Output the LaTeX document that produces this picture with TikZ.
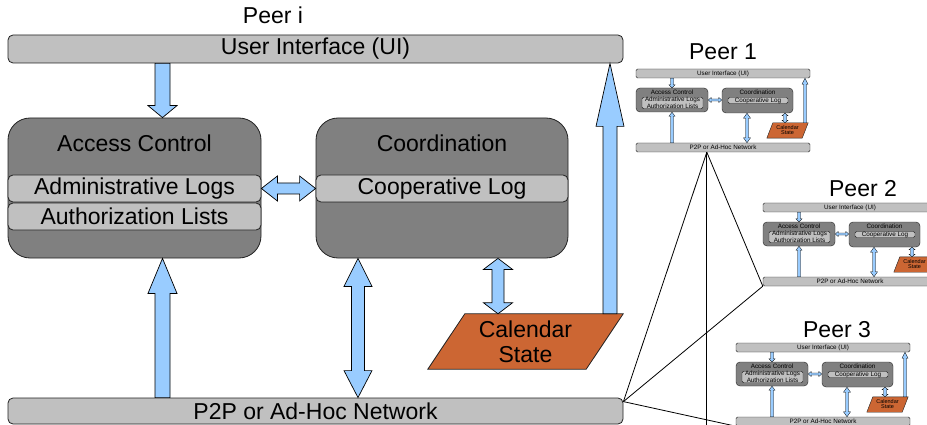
\documentclass[tikz,border=0pt]{standalone}
\usepackage{fontspec}
\setmainfont{Liberation Sans}
\usetikzlibrary{calc}
\definecolor{bargray}{HTML}{C0C0C0}
\definecolor{boxgray}{HTML}{808080}
\definecolor{edgegray}{HTML}{222222}
\definecolor{arrowblue}{HTML}{99CCFF}
\definecolor{calorange}{HTML}{CC6633}
\tikzset{
  lbl/.style={font=\fontsize{23}{25}\selectfont, inner sep=0pt, text=black},
  bar/.style={draw=edgegray, fill=bargray, rounded corners=5pt, line width=0.8pt, inner sep=0pt},
  bigbox/.style={draw=edgegray, fill=boxgray, rounded corners=22pt, line width=0.8pt, inner sep=0pt},
  blockar/.style={draw=black, fill=arrowblue, line width=0.7pt, line join=miter},
  calshape/.style={draw=edgegray, fill=calorange, line width=0.8pt},
  stxt/.style={font=\fontsize{6.3}{5}\selectfont, inner sep=0pt, text=black},
  sbar/.style={draw=edgegray, fill=bargray, rounded corners=1.5pt, line width=0.4pt, inner sep=0pt},
  sbox/.style={draw=edgegray, fill=boxgray, rounded corners=4pt, line width=0.4pt, inner sep=0pt},
  sblockar/.style={draw=black, fill=arrowblue, line width=0.3pt, line join=miter},
  scalshape/.style={draw=edgegray, fill=calorange, line width=0.4pt},
  link/.style={draw=black, line width=0.8pt},
}
% single-headed vertical block arrow: tail, tip, half shaft, half head, head length, style
\newcommand\sarrowv[6]{%
  \path[#6] let \p1=#1, \p2=#2, \n1={ifthenelse(\y2>\y1,1,-1)} in
   ({\x1-#3pt},\y1) -- ({\x1-#3pt},{\y2-(\n1)*#5pt}) -- ({\x1-#4pt},{\y2-(\n1)*#5pt})
   -- (\x1,\y2) -- ({\x1+#4pt},{\y2-(\n1)*#5pt}) -- ({\x1+#3pt},{\y2-(\n1)*#5pt})
   -- ({\x1+#3pt},\y1) -- cycle;}
% double-headed vertical block arrow: tip1, tip2, half shaft, half head, head len 1, head len 2, style
\newcommand\darrowv[7]{%
  \path[#7] let \p1=#1, \p2=#2, \n1={ifthenelse(\y2>\y1,1,-1)} in
   (\x1,\y1) -- ({\x1+#4pt},{\y1+(\n1)*#5pt}) -- ({\x1+#3pt},{\y1+(\n1)*#5pt})
   -- ({\x1+#3pt},{\y2-(\n1)*#6pt}) -- ({\x1+#4pt},{\y2-(\n1)*#6pt}) -- (\x1,\y2)
   -- ({\x1-#4pt},{\y2-(\n1)*#6pt}) -- ({\x1-#3pt},{\y2-(\n1)*#6pt})
   -- ({\x1-#3pt},{\y1+(\n1)*#5pt}) -- ({\x1-#4pt},{\y1+(\n1)*#5pt}) -- cycle;}
% double-headed horizontal block arrow
\newcommand\darrowh[7]{%
  \path[#7] let \p1=#1, \p2=#2, \n1={ifthenelse(\x2>\x1,1,-1)} in
   (\x1,\y1) -- ({\x1+(\n1)*#5pt},{\y1+#4pt}) -- ({\x1+(\n1)*#5pt},{\y1+#3pt})
   -- ({\x2-(\n1)*#6pt},{\y1+#3pt}) -- ({\x2-(\n1)*#6pt},{\y1+#4pt}) -- (\x2,\y1)
   -- ({\x2-(\n1)*#6pt},{\y1-#4pt}) -- ({\x2-(\n1)*#6pt},{\y1-#3pt})
   -- ({\x1+(\n1)*#5pt},{\y1-#3pt}) -- ({\x1+(\n1)*#5pt},{\y1-#4pt}) -- cycle;}
% small copy of a peer
\newcommand\minipeer[2]{%
  \begin{scope}[shift={#2}]
    \node[sbar, stxt, minimum width=174pt, minimum height=9pt] (#1ui) at (87,4.5) {User Interface (UI)};
    \node[sbox, minimum width=72pt, minimum height=24pt] (#1ac) at (36,31) {};
    \node[stxt] (#1act) at (36,23.5) {Access Control};
    \node[sbar, stxt, minimum width=61pt, minimum height=10pt, align=center] (#1adm) at (36.5,34) {Administrative Logs\\Authorization Lists};
    \node[sbox, minimum width=71pt, minimum height=25pt] (#1co) at (121.5,31.5) {};
    \node[stxt] (#1cot) at (121.5,23.5) {Coordination};
    \node[sbar, stxt, minimum width=60pt, minimum height=6pt] (#1coop) at (122,31.5) {Cooperative Log};
    \path node[minimum width=35pt, minimum height=15pt, inner sep=0pt] (#1cal) at (151.5,61.5) {};
    \draw[scalshape] ($(#1cal.north west)+(3,0)$) -- ($(#1cal.north east)+(3,0)$)
      -- ($(#1cal.south east)+(-3,0)$) -- ($(#1cal.south west)+(-3,0)$) -- cycle;
    \node[stxt, align=center, font=\fontsize{5.5}{5}\selectfont] (#1calt) at (#1cal.center) {Calendar\\State};
    \node[sbar, stxt, minimum width=174pt, minimum height=9pt] (#1net) at (87,78.5) {P2P or Ad-Hoc Network};
    \sarrowv{(#1ui.south-|#1ac.north)}{(#1ac.north)}{1.5}{3}{3}{sblockar}
    \sarrowv{(#1net.north-|#1ac.south)}{(#1ac.south)}{1.5}{3}{4}{sblockar}
    \darrowv{($(#1co.south)+(-10.5,0)$)}{($(#1net.north-|#1co.south)+(-10.5,0)$)}{1.5}{3.5}{5}{5}{sblockar}
    \darrowv{($(#1co.south)+(27.5,0)$)}{($(#1cal.north)+(-2.5,0)$)}{1.5}{3}{2.5}{2.5}{sblockar}
    \sarrowv{($(#1cal.north)+(17.5,0)$)}{($(#1ui.south-|#1cal.north)+(17.5,0)$)}{1.5}{3}{6}{sblockar}
    \darrowh{(#1ac.east)}{(#1co.west)}{1}{2.5}{3}{3}{sblockar}
    \coordinate (#1apex) at ($(#1net.south west)+(71,0)$);
  \end{scope}}
\begin{document}
\begin{tikzpicture}[x=1pt,y=-1pt]
  \useasboundingbox (0,0) rectangle (927,425);
  \clip (0,0) rectangle (927,425);
  % main peer
  \node[lbl] (peeri) at (273,15) {Peer i};
  \node[bar, lbl, minimum width=615pt, minimum height=28pt] (ui) at (315.5,49) {User Interface (UI)};
  \node[bigbox, minimum width=253pt, minimum height=140pt] (ac) at (134.5,188) {};
  \node[lbl] (actitle) at (134.5,143) {Access Control};
  \node[bar, lbl, minimum width=253pt, minimum height=27pt] (adm) at (134.5,188.5) {Administrative Logs};
  \node[bar, lbl, minimum width=253pt, minimum height=27pt] (auth) at (134.5,216.5) {Authorization Lists};
  \node[bigbox, minimum width=252pt, minimum height=140pt] (co) at (442,188) {};
  \node[lbl] (cotitle) at (442,143) {Coordination};
  \node[bar, lbl, minimum width=252pt, minimum height=27pt] (coop) at (442,188.5) {Cooperative Log};
  \node[bar, lbl, minimum width=615pt, minimum height=26pt] (net) at (315.5,411) {P2P or Ad-Hoc Network};
  \path node[minimum width=158pt, minimum height=55pt, inner sep=0pt] (cal) at (525.5,341.5) {};
  \draw[calshape] ($(cal.north west)+(18.5,0)$) -- ($(cal.north east)+(18.5,0)$)
    -- ($(cal.south east)+(-18.5,0)$) -- ($(cal.south west)+(-18.5,0)$) -- cycle;
  \node[lbl, align=center] (caltext) at (cal.center) {Calendar\\State};
  % main arrows
  \sarrowv{($(ui.south-|ac.north)+(28,0)$)}{($(ac.north)+(28,0)$)}{7.5}{14.5}{12}{blockar}
  \sarrowv{($(net.north-|ac.south)+(28,0)$)}{($(ac.south)+(28,0)$)}{7.5}{14.5}{35}{blockar}
  \darrowv{($(co.south)+(-84,0)$)}{($(net.north-|co.south)+(-84,0)$)}{6.5}{14}{28}{27}{blockar}
  \darrowv{($(co.south)+(56,0)$)}{($(cal.north)+(-27.5,0)$)}{6}{14.5}{11}{11}{blockar}
  \sarrowv{($(cal.north)+(84.5,0)$)}{($(ui.south-|cal.north)+(84.5,0)$)}{7}{14}{63}{blockar}
  \darrowh{(adm.east)}{(coop.west)}{5.5}{12.5}{16}{16}{blockar}
  % other peers
  \node[lbl] (peer1) at (723,52) {Peer 1};
  \minipeer{pa}{(636,69)}
  \node[lbl] (peer2) at (863,189) {Peer 2};
  \minipeer{pb}{(763,203)}
  \node[lbl] (peer3) at (837,330) {Peer 3};
  \minipeer{pc}{(736,343)}
  % network links
  \coordinate (netcorner) at ($(net.north east)+(0,4)$);
  \coordinate (vdown) at ($(paapex)+(0,320)$);
  \draw[link] (paapex) -- (netcorner);
  \draw[link] (paapex) -- (pbnet.south west);
  \draw[link] (paapex) -- (vdown);
  \draw[link] (netcorner) -- (pbnet.south west);
  \draw[link] (netcorner) -- (pcnet.south west);
\end{tikzpicture}
\end{document}
